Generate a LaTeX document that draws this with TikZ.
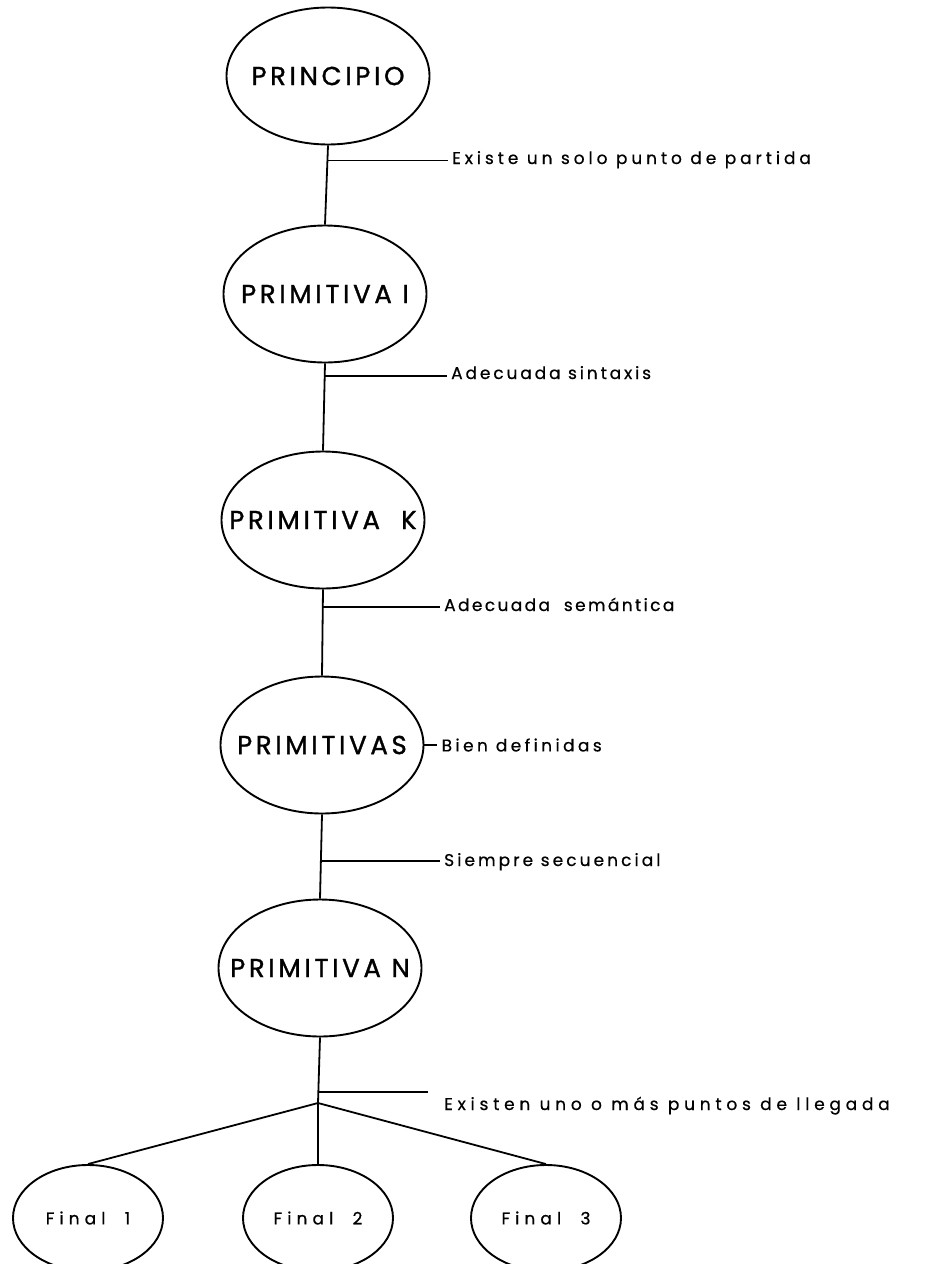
\documentclass[tikz,border=0pt]{standalone}
\usepackage{fontspec}
\setmainfont{Poppins}
\usetikzlibrary{shapes.geometric}

\tikzset{
  stage/.style={ellipse, draw, line width=1.9pt, inner sep=0pt,
    minimum width=203pt, minimum height=137pt,
    font=\fontsize{26}{30}\selectfont\addfontfeature{LetterSpace=14,FakeBold=1.2}},
  leaf/.style={ellipse, draw, line width=1.9pt, inner sep=0pt,
    minimum width=150pt, minimum height=106pt,
    font=\fontsize{17}{20}\selectfont\addfontfeature{LetterSpace=30,FakeBold=0.8}},
  note/.style={inner xsep=4pt, inner ysep=0pt,
    font=\fontsize{17}{20}\selectfont\addfontfeature{LetterSpace=#1,FakeBold=0.6}},
  note/.default=20,
  link/.style={line width=1.8pt},
}

\begin{document}
\begin{tikzpicture}[x=1pt, y=-1pt]
  \useasboundingbox (0,0) rectangle (929,1264);
  \fill[white] (0,0) rectangle (929,1264);
  \clip (0,0) rectangle (929,1264);

  % main chain of stages
  \node[stage] (p0) at (328,76)  {\makebox[0pt]{PRINCIPIO}};
  \node[stage] (p1) at (325,294) {\makebox[0pt]{PRIMITIVA I}};
  \node[stage] (p2) at (323,520) {\makebox[0pt]{PRIMITIVA\ \ K}};
  \node[stage] (p3) at (322,745) {\makebox[0pt]{PRIMITIVAS}};
  \node[stage] (p4) at (320,968) {\makebox[0pt]{PRIMITIVA N}};

  % end states
  \coordinate (br) at (318,1103);
  \node[leaf] (f1) at (88,1218)  {\makebox[0pt]{Final\ \ 1}};
  \node[leaf] (f2) at (318,1218) {\makebox[0pt]{Final\ \ 2}};
  \node[leaf] (f3) at (546,1218) {\makebox[0pt]{Final\ \ 3}};

  % vertical links, with the points where the remarks branch off
  \draw[link] (p0.south) -- coordinate[pos=0.19] (c0) (p1.north);
  \draw[link] (p1.south) -- coordinate[pos=0.14] (c1) (p2.north);
  \draw[link] (p2.south) -- coordinate[pos=0.20] (c2) (p3.north);
  \draw[link] (p3.south) -- coordinate[pos=0.55] (c4) (p4.north);
  \draw[link] (p4.south) -- coordinate[pos=0.83] (c5) (br);

  \draw[link] (br) -- (f1.north);
  \draw[link] (br) -- (f2.north);
  \draw[link] (br) -- (f3.north);

  % remarks
  \node[note=23, anchor=base west] (t0) at (448,164) {Existe un solo punto de partida};
  \node[note=17, anchor=base west] (t1) at (447,379) {Adecuada sintaxis};
  \node[note=14, anchor=base west] (t2) at (440,611) {Adecuada\ \ semántica};
  \node[note=20, anchor=west] (t3) at ([xshift=13pt]p3.east) {Bien definidas};
  \node[note=18, anchor=base west] (t4) at (440,866) {Siempre secuencial};
  \node[note=28, anchor=base west] (t5) at (440,1110) {Existen\ uno o más puntos de llegada};

  \draw[link] (c0) -- (c0 -| t0.west);
  \draw[link] (c1) -- (c1 -| t1.west);
  \draw[link] (c2) -- (c2 -| t2.west);
  \draw[link] (p3.east) -- (t3.west);
  \draw[link] (c4) -- (c4 -| t4.west);
  \draw[link] (c5) -- ([xshift=-12pt]c5 -| t5.west);
\end{tikzpicture}
\end{document}
